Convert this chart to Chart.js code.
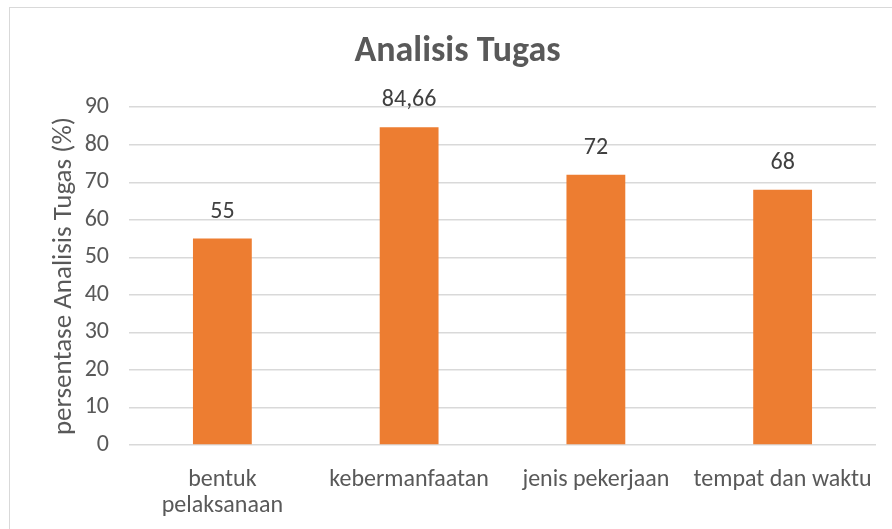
<!DOCTYPE html>
<html>
<head>
<meta charset="utf-8">
<script src="https://cdn.jsdelivr.net/npm/chart.js@4/dist/chart.umd.min.js"></script>
<style>
  html, body { margin: 0; padding: 0; background: #fff; }
  #wrap { width: 892px; height: 529px; position: relative; }
</style>
</head>
<body>
<div id="wrap"><canvas id="chart" width="892" height="529"></canvas></div>
<script>
const categories = [['bentuk', 'pelaksanaan'], 'kebermanfaatan', 'jenis pekerjaan', 'tempat dan waktu']
const values = [55, 84.66, 72, 68]
const yTicks = { min: 0, max: 90, step: 10 }

const FONT = "Carlito, Calibri, 'Open Sans', sans-serif"
const TEXT = '#595959'

const frame = {
  id: 'frame',
  beforeDraw(chart) {
    const ctx = chart.ctx
    ctx.save()
    ctx.fillStyle = '#fff'
    ctx.fillRect(0, 0, chart.width, chart.height)
    ctx.strokeStyle = '#d9d9d9'
    ctx.lineWidth = 1
    ctx.strokeRect(9.5, 7.5, chart.width + 20, chart.height + 20)
    ctx.restore()
  }
}

const valueLabels = {
  id: 'valueLabels',
  afterDatasetsDraw(chart) {
    const ctx = chart.ctx
    const meta = chart.getDatasetMeta(0)
    ctx.save()
    ctx.font = '24px ' + FONT
    ctx.fillStyle = '#404040'
    ctx.textAlign = 'center'
    ctx.textBaseline = 'middle'
    meta.data.forEach((bar, i) => {
      ctx.fillText(String(values[i]).replace('.', ','), bar.x, bar.y - 27)
    })
    ctx.restore()
  }
}

new Chart(document.getElementById('chart'), {
  type: 'bar',
  data: {
    labels: categories,
    datasets: [{
      data: values,
      backgroundColor: '#ED7D31',
      borderWidth: 0,
      categoryPercentage: 1,
      barPercentage: 0.315
    }]
  },
  options: {
    responsive: false,
    animation: false,
    layout: { padding: { top: 7, right: 16, bottom: 0, left: 39 } },
    plugins: {
      legend: { display: false },
      tooltip: { enabled: false },
      title: {
        display: true,
        text: 'Analisis Tugas',
        color: TEXT,
        font: { family: FONT, size: 36, weight: 'bold' },
        padding: { top: 23, bottom: 34 }
      }
    },
    scales: {
      x: {
        grid: { display: false },
        border: { display: false },
        ticks: {
          color: TEXT,
          font: { family: FONT, size: 24, lineHeight: 1.08 },
          maxRotation: 0,
          autoSkip: false,
          padding: 14
        },
        afterFit: s => { s.height = 84 }
      },
      y: {
        min: yTicks.min,
        max: yTicks.max,
        grid: { color: '#d9d9d9', lineWidth: 1.5, drawTicks: false },
        border: { display: false },
        ticks: {
          stepSize: yTicks.step,
          color: TEXT,
          font: { family: FONT, size: 24 },
          padding: 20
        },
        title: {
          display: true,
          text: 'persentase Analisis Tugas (%)',
          color: TEXT,
          font: { family: FONT, size: 27 },
          padding: { top: 9, bottom: 0 }
        },
        afterFit: s => { s.width = 90 }
      }
    }
  },
  plugins: [frame, valueLabels]
})
</script>
</body>
</html>
